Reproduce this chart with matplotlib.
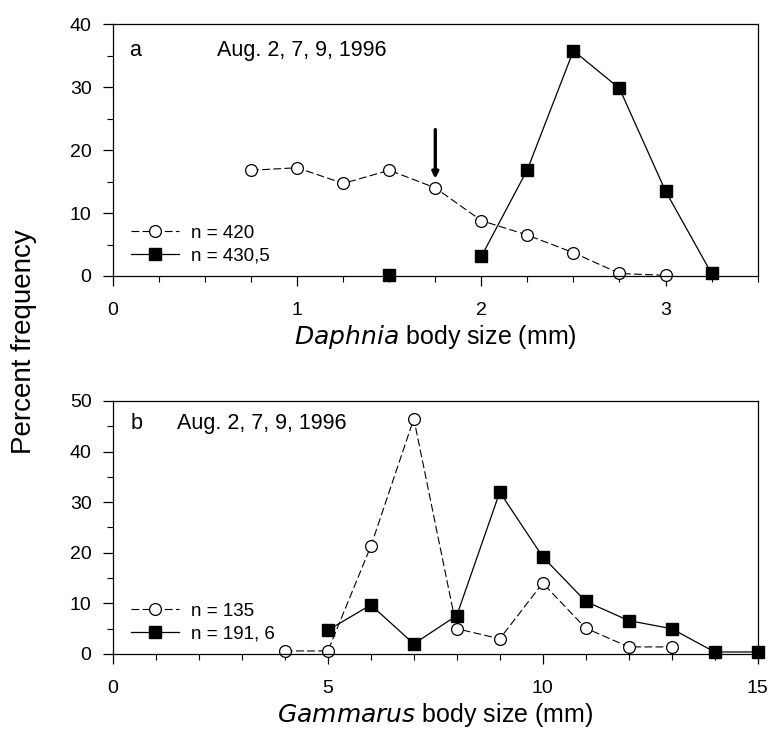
import matplotlib.pyplot as plt
import numpy as np
from matplotlib.ticker import MultipleLocator

# panel a: Daphnia
daph_size = [0.75, 1.0, 1.25, 1.5, 1.75, 2.0, 2.25, 2.5, 2.75, 3.0, 3.25]
daph_open = [16.8, 17.2, 14.7, 16.8, 14.0, 8.8, 6.5, 3.7, 0.4, 0.1, np.nan]
daph_filled = [np.nan, np.nan, np.nan, 0.1, np.nan, 3.1, 16.9, 35.8, 29.8, 13.5, 0.4]
daph_labels = ['n = 420', 'n = 430,5']

# panel b: Gammarus
gam_size = [4, 5, 6, 7, 8, 9, 10, 11, 12, 13, 14, 15]
gam_open = [0.6, 0.6, 21.3, 46.5, 5.0, 3.0, 14.0, 5.1, 1.4, 1.4, np.nan, np.nan]
gam_filled = [np.nan, 4.7, 9.7, 2.0, 7.6, 32.0, 19.2, 10.4, 6.6, 5.0, 0.4, 0.4]
gam_labels = ['n = 135', 'n = 191, 6']

date_text = 'Aug. 2, 7, 9, 1996'

plt.rcParams['font.family'] = ['Liberation Sans', 'DejaVu Sans']

fig = plt.figure(figsize=(7.71, 7.34), dpi=100)
ax1 = fig.add_axes([0.1466, 0.624, 0.836, 0.343])
ax2 = fig.add_axes([0.1466, 0.109, 0.836, 0.3447])

open_style = dict(color='black', lw=0.8, dashes=(7, 3), marker='o', ms=8.5,
                  mfc='white', mec='black', mew=0.9)
fill_style = dict(color='black', lw=0.9, marker='s', ms=8, mfc='black', mec='black')

ax1.plot(daph_size, daph_open, label=daph_labels[0], **open_style)
ax1.plot(daph_size, daph_filled, label=daph_labels[1], **fill_style)
ax1.annotate('', xy=(1.75, 15.0), xytext=(1.75, 23.7),
             arrowprops=dict(arrowstyle='-|>', color='black', lw=2.4, mutation_scale=9))
ax1.text(0.09, 35.9, 'a', fontsize=15.5, va='center')
ax1.text(0.565, 35.9, date_text, fontsize=15.5, va='center')
ax1.set_xlim(0, 3.5)
ax1.set_ylim(0, 40)
ax1.xaxis.set_major_locator(MultipleLocator(1))
ax1.xaxis.set_minor_locator(MultipleLocator(0.25))
ax1.yaxis.set_major_locator(MultipleLocator(10))
ax1.yaxis.set_minor_locator(MultipleLocator(5))
ax1.set_xlabel('$\\it{Daphnia}$ body size (mm)', fontsize=18, labelpad=3)

ax2.plot(gam_size, gam_open, label=gam_labels[0], **open_style)
ax2.plot(gam_size, gam_filled, label=gam_labels[1], **fill_style)
ax2.text(0.4, 45.5, 'b', fontsize=15.5, va='center')
ax2.text(1.5, 45.5, date_text, fontsize=15.5, va='center')
ax2.set_xlim(0, 15)
ax2.set_ylim(0, 50)
ax2.xaxis.set_major_locator(MultipleLocator(5))
ax2.xaxis.set_minor_locator(MultipleLocator(1))
ax2.yaxis.set_major_locator(MultipleLocator(10))
ax2.yaxis.set_minor_locator(MultipleLocator(5))
ax2.set_xlabel('$\\it{Gammarus}$ body size (mm)', fontsize=18, labelpad=3)

for ax in (ax1, ax2):
    for ln in ax.lines:
        ln.set_clip_on(False)
    ax.tick_params(which='major', direction='out', length=7.5, width=0.9, labelsize=14)
    ax.tick_params(axis='x', which='major', pad=11)
    ax.tick_params(axis='y', which='major', pad=8)
    ax.tick_params(which='minor', direction='out', length=4, width=0.8)
    for s in ax.spines.values():
        s.set_linewidth(0.9)
    ax.legend(loc='lower left', bbox_to_anchor=(0.01, 0.0), frameon=False, fontsize=13.5,
              handlelength=2.6, handletextpad=0.6, labelspacing=0.3, borderaxespad=0.2)

fig.text(0.031, 0.535, 'Percent frequency', rotation=90, fontsize=20, va='center', ha='center')

fig.savefig('out.png', dpi=100)
